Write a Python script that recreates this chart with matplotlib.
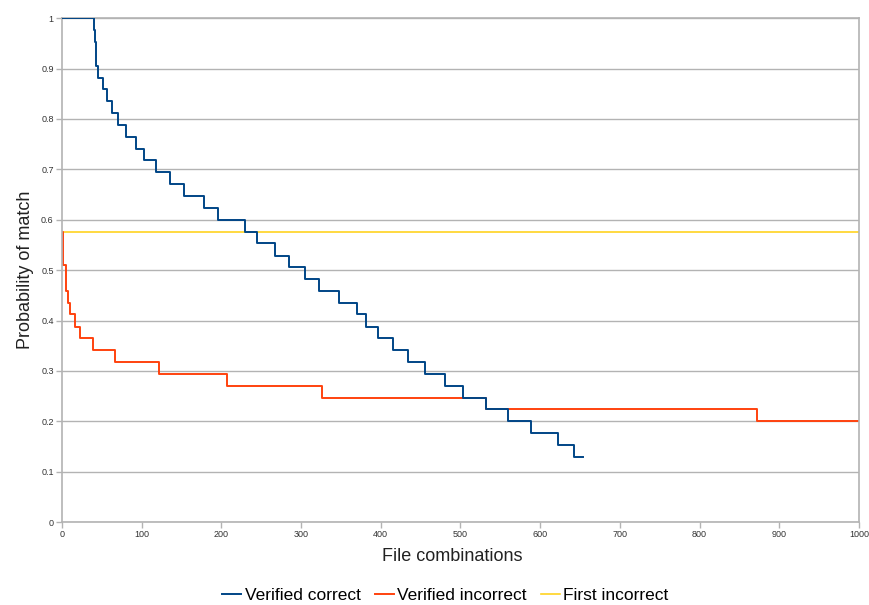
import matplotlib
matplotlib.use("Agg")
import matplotlib.pyplot as plt
import numpy as np

# step start positions and levels
correct_x = [0, 40.5, 41.2, 42, 43, 44.8, 51.5, 56, 63, 70, 80, 93, 103, 117.5,
             136, 153, 178.5, 196, 229, 245, 267, 285, 305, 322.5, 348, 370.5,
             382, 397, 415, 434, 455.5, 480.5, 503, 532, 559, 588, 622, 642, 654]
correct_y = [1.0, 0.976, 0.953, 0.929, 0.906, 0.882, 0.859, 0.835, 0.812, 0.788,
             0.765, 0.741, 0.718, 0.694, 0.671, 0.647, 0.624, 0.600, 0.576, 0.553,
             0.529, 0.506, 0.482, 0.459, 0.435, 0.412, 0.388, 0.365, 0.341, 0.318,
             0.294, 0.271, 0.247, 0.224, 0.200, 0.176, 0.153, 0.129, 0.129]

incorrect_x = [0, 1.5, 5, 8, 10, 16.3, 22.6, 39, 66.5, 122, 206.6, 326, 532, 871.6, 1000]
incorrect_y = [0.576, 0.510, 0.459, 0.435, 0.412, 0.388, 0.365, 0.341, 0.318,
               0.294, 0.271, 0.247, 0.224, 0.200, 0.200]

first_x = [0, 1000]
first_y = [0.576, 0.576]

x_ticks = np.arange(0, 1001, 100)
y_ticks = np.arange(0, 1.01, 0.1)

plt.rcParams['font.family'] = ['Liberation Sans', 'DejaVu Sans']

fig = plt.figure(figsize=(8.7, 6.05), dpi=100)
ax = fig.add_axes([0.0713, 0.137, 0.916, 0.833])

ax.plot(correct_x, correct_y, drawstyle='steps-post', color='#004586', lw=1.4,
        label='Verified correct', zorder=3)
ax.plot(incorrect_x, incorrect_y, drawstyle='steps-post', color='#ff420e', lw=1.4,
        label='Verified incorrect', zorder=2)
ax.plot(first_x, first_y, color='#ffd320', lw=1.2, label='First incorrect', zorder=1)

ax.set_xlim(0, 1000)
ax.set_ylim(0, 1)
ax.set_xticks(x_ticks)
ax.set_yticks(y_ticks)
ax.set_xticklabels([str(int(v)) for v in x_ticks])
ax.set_yticklabels(['0'] + [f'{v:.1f}' for v in y_ticks[1:-1]] + ['1'])
ax.tick_params(labelsize=6.5, colors='#b3b3b3', labelcolor='#333333', length=4,
               width=1, pad=2)

ax.grid(axis='y', color='#b3b3b3', lw=1)
ax.set_axisbelow(True)
for s in ax.spines.values():
    s.set_color('#b3b3b3')
    s.set_linewidth(1.2)

ax.set_xlabel('File combinations', fontsize=13, color='#222222')
ax.set_ylabel('Probability of match', fontsize=13, color='#222222')
ax.xaxis.set_label_coords(0.49, -0.052)
ax.yaxis.set_label_coords(-0.035, 0.5)

ax.legend(loc='center', bbox_to_anchor=(0.481, -0.145), ncol=3, frameon=False,
          fontsize=12.5, handlelength=1.1, handletextpad=0.2, columnspacing=0.8)

fig.savefig('out.png', dpi=100)
